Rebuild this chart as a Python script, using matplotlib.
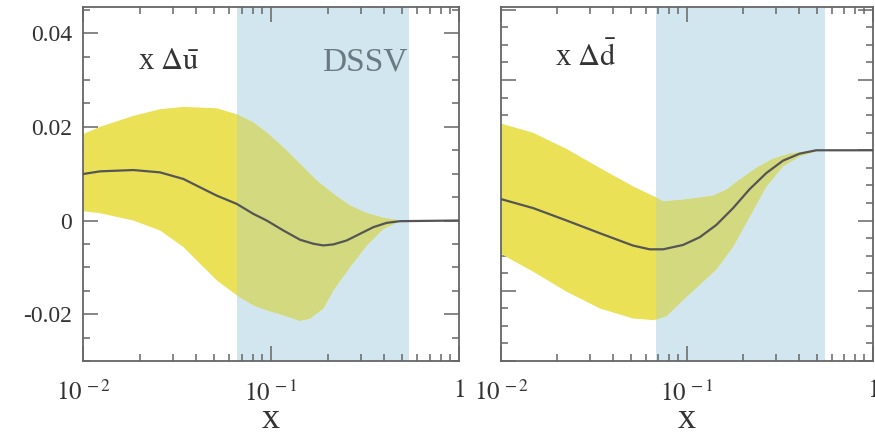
import numpy as np
from matplotlib import pyplot as plt
from matplotlib.patches import Rectangle
from matplotlib.ticker import LogLocator, MultipleLocator, FixedLocator

plt.rcParams['font.family'] = ['Liberation Serif', 'DejaVu Serif']
plt.rcParams['mathtext.fontset'] = 'stix'

# left panel: x * Delta u-bar
ub_x = [0.01, 0.01231, 0.01852, 0.02568, 0.0342, 0.04192, 0.0514, 0.0657, 0.0805, 0.0948,
        0.1163, 0.1427, 0.1679, 0.1897, 0.2145, 0.2527, 0.2974, 0.3501, 0.4123, 0.486, 1.0]
ub_c = [0.00993, 0.0105, 0.01078, 0.01028, 0.00887, 0.00709, 0.00532, 0.00355, 0.00142, 0.0,
        -0.00213, -0.00411, -0.00496, -0.00532, -0.00511, -0.00426, -0.00284, -0.00142,
        -0.0005, -0.00014, 0.0]
ub_up_x = [0.01, 0.01231, 0.01852, 0.02568, 0.0342, 0.0514, 0.0657, 0.0805, 0.0948, 0.1163,
           0.1427, 0.175, 0.2145, 0.263, 0.323, 0.396, 0.486]
ub_up = [0.01844, 0.0200, 0.02234, 0.02376, 0.02426, 0.02397, 0.0227, 0.02092, 0.01879,
         0.0156, 0.01206, 0.00851, 0.00567, 0.00319, 0.00156, 0.00057, 0.0]
ub_lo_x = [0.01, 0.01231, 0.01852, 0.02568, 0.0342, 0.04192, 0.0514, 0.0657, 0.0805, 0.0948,
           0.1163, 0.1427, 0.1612, 0.1897, 0.2145, 0.263, 0.323, 0.396, 0.486]
ub_lo = [0.00199, 0.00156, 0.0, -0.00213, -0.00567, -0.00922, -0.01277, -0.01596, -0.01809,
         -0.01915, -0.02021, -0.02142, -0.02092, -0.01879, -0.01489, -0.00993, -0.00532,
         -0.00177, -0.00014]

# right panel: x * Delta d-bar
db_x = [0.01, 0.01491, 0.02252, 0.03399, 0.05129, 0.063, 0.0744, 0.0952, 0.1171, 0.1439,
        0.1768, 0.2174, 0.2671, 0.3281, 0.4031, 0.4955, 1.0]
db_c = [-0.00695, -0.00824, -0.01, -0.01181, -0.01357, -0.0141, -0.0141, -0.01348, -0.01238,
        -0.01062, -0.00824, -0.00552, -0.00324, -0.00148, -0.00048, 0.0, 0.0]
db_up_x = [0.01, 0.01491, 0.02252, 0.03399, 0.05129, 0.0665, 0.0744, 0.0952, 0.138, 0.1628,
           0.1919, 0.2359, 0.2895, 0.3559, 0.4955]
db_up = [0.00381, 0.00248, 0.00019, -0.00252, -0.00514, -0.00657, -0.00729, -0.00705,
         -0.00648, -0.00562, -0.00419, -0.00252, -0.00124, -0.00048, 0.0]
db_lo_x = [0.01, 0.01491, 0.02252, 0.03399, 0.05129, 0.0665, 0.0774, 0.0992, 0.1439, 0.1768,
           0.2174, 0.2671, 0.3281, 0.4031, 0.4955]
db_lo = [-0.01476, -0.01729, -0.02014, -0.02252, -0.02395, -0.02419, -0.02362, -0.02086,
         -0.01695, -0.01371, -0.00943, -0.00514, -0.00229, -0.00086, -0.00014]

band_left = (0.066, 0.54)
band_right = (0.068, 0.555)

yellow = '#ebe157'
overlap = '#d3d97f'
blue = '#d1e6ee'
line_col = '#555555'
spine_col = '#666666'


def draw_panel(ax, cx, cy, ux, uy, lx, ly, band, ylim, major, minor):
    ax.set_xscale('log')
    ax.set_xlim(0.01, 1)
    ax.set_ylim(*ylim)
    ax.axvspan(band[0], band[1], color=blue, lw=0, zorder=1)

    px = np.r_[ux, lx[::-1]]
    py = np.r_[uy, ly[::-1]]
    ax.fill(px, py, color=yellow, lw=0, zorder=2)
    over = ax.fill(px, py, color=overlap, lw=0, zorder=3)[0]
    clip = Rectangle((band[0], ylim[0]), band[1] - band[0], ylim[1] - ylim[0],
                     transform=ax.transData)
    over.set_clip_path(clip)

    ax.plot(cx, cy, color=line_col, lw=1.6, zorder=4)

    ax.yaxis.set_major_locator(MultipleLocator(major))
    ax.yaxis.set_minor_locator(MultipleLocator(minor))
    ax.xaxis.set_major_locator(FixedLocator([0.01, 0.1, 1]))
    ax.xaxis.set_minor_locator(LogLocator(base=10, subs=np.arange(2, 10)))
    ax.tick_params(which='both', direction='in', top=True, right=True,
                   color=spine_col, width=1.1, labelcolor='#333333', labelsize=17)
    ax.tick_params(which='major', length=11, pad=8)
    ax.tick_params(which='minor', length=5)
    ax.tick_params(axis='x', which='major', pad=14, labelsize=18)
    for s in ax.spines.values():
        s.set_color(spine_col)
        s.set_linewidth(1.3)
    ax.set_xticklabels([r'$10^{\,-2}$', r'$10^{\,-1}$', r'$1$'])
    ax.set_xlabel('x', fontsize=26, color='#333333', va='baseline')
    ax.xaxis.set_label_coords(0.5, -0.19)


fig = plt.figure(figsize=(8.75, 4.32), dpi=100)
ax1 = fig.add_axes([0.0949, 0.1644, 0.4297, 0.8194])
ax2 = fig.add_axes([0.5726, 0.1644, 0.4251, 0.8194])

draw_panel(ax1, ub_x, ub_c, ub_up_x, ub_up, ub_lo_x, ub_lo, band_left,
           (-0.03, 0.0456), 0.02, 0.005)
ax1.yaxis.set_major_locator(FixedLocator([-0.02, 0.0, 0.02, 0.04]))
ax1.set_yticklabels(['-0.02', '0', '0.02', '0.04'])

draw_panel(ax2, db_x, db_c, db_up_x, db_up, db_lo_x, db_lo, band_right,
           (-0.03, 0.0204), 0.01, 0.0025)
ax2.set_yticklabels([])

ax1.text(0.146, 0.845, r'x $\Delta\bar{\mathrm{u}}$', transform=ax1.transAxes,
         fontsize=22, color='#333333', va='center', ha='left')
ax1.text(0.862, 0.845, 'DSSV', transform=ax1.transAxes,
         fontsize=24, color='#6b7a80', va='center', ha='right')
ax2.text(0.145, 0.859, r'x $\Delta\bar{\mathrm{d}}$', transform=ax2.transAxes,
         fontsize=22, color='#333333', va='center', ha='left')

fig.savefig('out.png', dpi=100)
